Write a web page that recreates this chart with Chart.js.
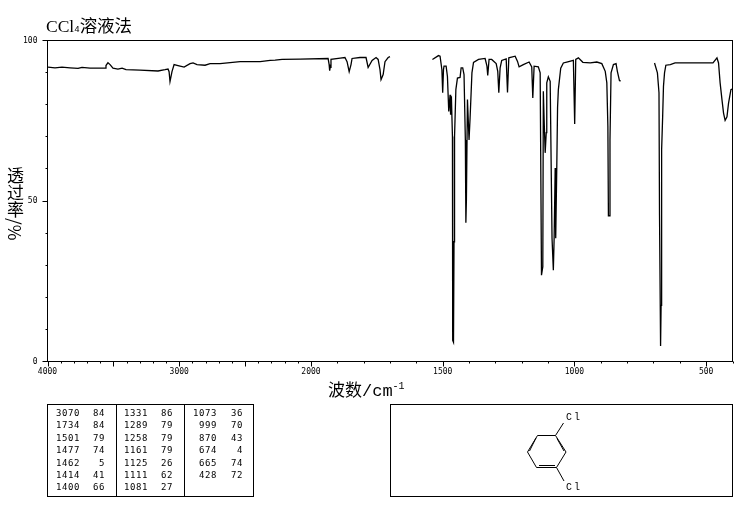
<!DOCTYPE html>
<html>
<head>
<meta charset="utf-8">
<script src="https://cdn.jsdelivr.net/npm/chart.js@4"></script>
<style>
  html, body { margin: 0; padding: 0; background: #fff; }
  #wrap { position: relative; width: 737px; height: 510px; overflow: hidden; }
  #myChart { position: absolute; left: 0; top: 0; }
  .txt { position: absolute; color: #000; white-space: nowrap; line-height: 1; font-family: "Liberation Mono", "Noto Sans CJK SC", monospace; }
  .cjk { font-family: "Noto Sans CJK SC", sans-serif; }
  .box { position: absolute; border: 1px solid #000; box-sizing: border-box; }
  .rule { position: absolute; background: #000; width: 1px; }
  .num { position: absolute; font: 9px "DejaVu Sans Mono", monospace; letter-spacing: 0.6px; text-align: right; line-height: 1; color: #000; }
</style>
</head>
<body>
<div id="wrap">
  <canvas id="myChart" width="737" height="510"></canvas>
  <div class="txt" style="left:46px;top:16px;font-size:17.5px"><span style="font-family:'Liberation Serif'">CCl</span><span style="font-size:9px">4</span><span class="cjk">溶液法</span></div>
  <div class="txt cjk" style="left:7px;top:167px;font-size:17px;writing-mode:vertical-rl">透过率/%</div>
  <div class="txt" style="left:328px;top:380px;font-size:17px"><span class="cjk">波数</span>/cm<sup style="font-size:10px;line-height:0">-1</sup></div>

  <div class="box" style="left:47px;top:404px;width:207px;height:93px"></div>
  <div class="rule" style="left:116px;top:404px;height:93px"></div>
  <div class="rule" style="left:184px;top:404px;height:93px"></div>

  <div class="box" style="left:390px;top:404px;width:343px;height:93px"></div>
  <svg style="position:absolute;left:390px;top:404px" width="343" height="93">
    <g fill="none" stroke="#000" stroke-width="1" transform="translate(-390,-404)">
      <path d="M537.5 435.5H555.5L566 452L556.5 467.5H536.5L527.5 452Z"/>
      <path d="M536 438L529.5 451M557 438.5L564 451M539 465.5H555"/>
      <path d="M555.5 435.5L563.5 423M556.5 467.5L564 481"/>
    </g>
    <text x="176" y="16" font-family="Liberation Mono" font-size="10" letter-spacing="2">Cl</text>
    <text x="176" y="86" font-family="Liberation Mono" font-size="10" letter-spacing="2">Cl</text>
  </svg>
</div>
<script>
// spectrum, three runs with gaps where the solvent blocks
const run1Wn = [3996,3943,3890,3829,3768,3738,3677,3563,3556,3541,3525,3503,3465,3434,3404,3298,3161,3108,3085,3077,3070,3055,3039,3009,2963,2918,2895,2865,2804,2766,2690,2538,2386,2310,2272,2219,2083,1935,1931,1929,1927,1924,1889,1871,1863,1855,1848,1844,1814,1791,1783,1768,1753,1745,1738,1734,1726,1719,1707,1700];
const run1T  = [91.7,91.5,91.7,91.5,91.3,91.6,91.4,91.4,92.2,93.1,92.5,91.4,91.1,91.4,90.9,90.8,90.5,90.9,91.1,90.3,87.2,90.3,92.5,92.2,91.7,92.8,93,92.5,92.3,92.8,92.8,93.4,93.4,93.8,93.9,94.1,94.2,94.4,92.5,90.6,91.6,94.1,94.5,94.7,93.4,90.3,92.5,94.4,94.7,94.7,91.6,93.8,94.7,94.1,90.9,87.8,89.4,93.4,94.7,95];

const run2Wn = [1539,1516,1510,1503,1500,1497,1495,1487,1482,1477,1472,1470,1467,1463,1462,1459,1457,1455,1450,1444,1434,1430,1424,1419,1414,1412,1410,1406,1400,1396,1389,1383,1364,1339,1332,1329,1324,1314,1297,1291,1287,1282,1276,1259,1254,1249,1225,1216,1210,1194,1172,1162,1158,1153,1137,1130,1125,1120,1118,1115,1111,1107,1105,1099,1092,1085,1080,1077,1073,1071,1067,1064,1061,1052,1042,1029,1004,999,995,985,968,940,915,896,883,877,873,871,868,865,861,852,842,837,829,824];
const run2T  = [94.1,95.3,95.1,90.9,83.7,90.9,92,92,88.8,77.9,83.1,76.9,82.6,70.1,6.6,6,37.3,70,84.7,88.3,88.5,91.5,91.5,89.4,69,43.2,50.3,81.6,69,75.9,89.9,93.2,94.1,94.4,92,89.1,94.1,94.1,92.8,90.4,83.7,91.5,93.8,94.3,83.8,94.6,95.1,93.5,91.8,92.5,93.3,91.8,82.1,92,91.8,89.9,26.9,29.5,84.2,75.3,65,71.3,86.8,88.7,87.3,38.4,28.4,38.4,60.3,38.4,60.3,79.1,84.7,91.4,93,93.3,93.8,74,94.1,94.6,93.2,93,93.3,92.8,90.4,86.8,73.2,45.4,45.4,69,89.9,92.5,92.8,90.4,87.5,87.4];

const run3Wn = [696,685,679,677,673,671,669,665,662,658,653,636,618,497,474,459,453,447,440,434,428,421,415,406,401];
const run3T  = [93,89.9,83.7,45.6,4.8,17.5,66,76.6,85.7,89.9,92.3,92.5,93,93,93,94.6,93,86.8,81.6,77.4,75.1,76.2,80.5,84.7,84.9];

// peak table
const peakWn = [3070,1734,1501,1477,1462,1414,1400,1331,1289,1258,1161,1125,1111,1081,1073,999,870,674,665,428];
const peakT  = [84,84,79,74,5,41,66,86,79,79,79,26,62,27,36,70,43,4,74,72];

const xTickLabels = [4000,3000,2000,1500,1000,500];
const yTickLabels = [0,50,100];

// the plotter doubles the scale below 2000
function toAxis(wn) {
  return wn >= 2000 ? 4000 - wn : 2000 + (2000 - wn) * 2;
}
function fromAxis(p) {
  return p <= 2000 ? 4000 - p : 2000 - (p - 2000) / 2;
}
function toPoints(wn, t) {
  return wn.map((w, i) => ({ x: toAxis(w), y: t[i] }));
}

const frameTicks = {
  id: 'frameTicks',
  afterDraw(chart) {
    const c = chart.ctx, a = chart.chartArea;
    const xs = chart.scales.x, ys = chart.scales.y;
    c.save();
    c.strokeStyle = '#000';
    c.lineWidth = 1;
    c.strokeRect(a.left, a.top, a.right - a.left, a.bottom - a.top);
    c.beginPath();
    for (let wn = 4000; wn >= 400; wn -= 100) {
      const px = Math.round(xs.getPixelForValue(toAxis(wn))) + 0.5;
      const len = wn % 500 == 0 ? 5 : 2;
      c.moveTo(px, a.bottom);
      c.lineTo(px, a.bottom + len);
    }
    for (let v = 0; v <= 100; v += 10) {
      const py = Math.round(ys.getPixelForValue(v) - 0.5) + 0.5;
      const len = v % 50 == 0 ? 5 : 2;
      c.moveTo(a.left, py);
      c.lineTo(a.left - len, py);
    }
    c.stroke();
    c.restore();
  }
};

const lineStyle = { borderColor: '#000', borderWidth: 1.3, pointRadius: 0, tension: 0, fill: false };

new Chart(document.getElementById('myChart'), {
  type: 'line',
  data: {
    datasets: [
      { data: toPoints(run1Wn, run1T), ...lineStyle },
      { data: toPoints(run2Wn, run2T), ...lineStyle },
      { data: toPoints(run3Wn, run3T), ...lineStyle }
    ]
  },
  plugins: [frameTicks],
  options: {
    responsive: false,
    animation: false,
    devicePixelRatio: 1,
    layout: { padding: { left: 0, top: 40.5, right: 4.5, bottom: 0 } },
    plugins: { legend: { display: false }, tooltip: { enabled: false }, title: { display: false } },
    scales: {
      x: {
        type: 'linear',
        min: 0,
        max: 5200,
        grid: { display: false, drawTicks: false },
        border: { display: false },
        afterBuildTicks: (s) => { s.ticks = xTickLabels.map(w => ({ value: toAxis(w) })); },
        afterFit: (s) => { s.height = 510 - 361.5; },
        ticks: {
          autoSkip: false,
          maxRotation: 0,
          padding: 6,
          color: '#000',
          font: { family: 'DejaVu Sans Mono', size: 8 },
          callback: (v) => String(fromAxis(v))
        }
      },
      y: {
        min: 0,
        max: 100,
        grid: { display: false, drawTicks: false },
        border: { display: false },
        afterBuildTicks: (s) => { s.ticks = yTickLabels.map(v => ({ value: v })); },
        afterFit: (s) => { s.width = 47.5; },
        ticks: {
          padding: 10,
          color: '#000',
          font: { family: 'DejaVu Sans Mono', size: 8 }
        }
      }
    }
  }
});

// peak table, seven rows per column
const wrap = document.getElementById('wrap');
const colWnRight = [80, 148, 217];
const colTRight = [105, 173, 243];
peakWn.forEach((w, i) => {
  const col = Math.floor(i / 7), row = i % 7;
  [[w, colWnRight[col]], [peakT[i], colTRight[col]]].forEach(([val, right]) => {
    const s = document.createElement('span');
    s.className = 'num';
    s.textContent = val;
    s.style.right = (737 - right) + 'px';
    s.style.top = (409 + row * 12.4) + 'px';
    wrap.appendChild(s);
  });
});
</script>
</body>
</html>
